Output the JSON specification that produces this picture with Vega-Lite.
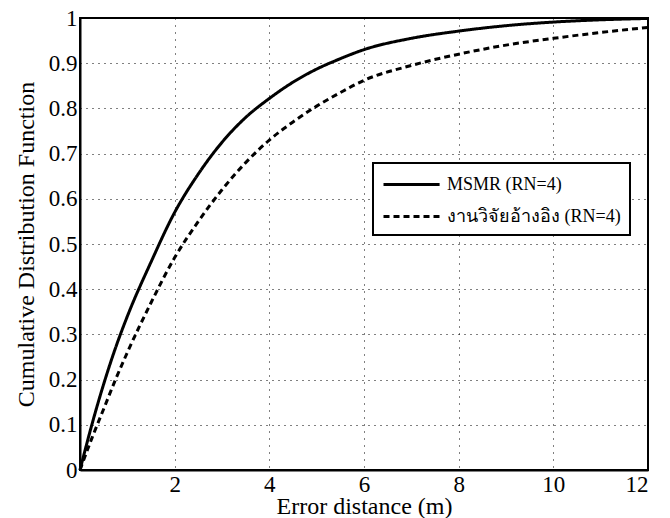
{
  "$schema": "https://vega.github.io/schema/vega-lite/v6.json",
  "width": 568,
  "height": 452,
  "autosize": {"type": "none"},
  "padding": {"left": 80, "top": 18, "right": 22, "bottom": 48},
  "background": "white",
  "config": {
    "font": "Liberation Serif",
    "view": {"stroke": "black", "strokeWidth": 2},
    "axis": {
      "labelFont": "Liberation Serif",
      "titleFont": "Liberation Serif",
      "labelFontSize": 23,
      "titleFontSize": 24,
      "titleFontWeight": "normal",
      "labelColor": "black",
      "titleColor": "black",
      "domainColor": "black",
      "domainWidth": 2,
      "gridColor": "black",
      "gridDash": [1, 5],
      "gridWidth": 1,
      "gridOpacity": 1,
      "ticks": false
    }
  },
  "data": {
    "values": [
      {"x": 0, "y": 0, "s": "MSMR (RN=4)"},
      {"x": 0.25, "y": 0.1, "s": "MSMR (RN=4)"},
      {"x": 0.5, "y": 0.19, "s": "MSMR (RN=4)"},
      {"x": 0.75, "y": 0.27, "s": "MSMR (RN=4)"},
      {"x": 1, "y": 0.34, "s": "MSMR (RN=4)"},
      {"x": 1.5, "y": 0.46, "s": "MSMR (RN=4)"},
      {"x": 2, "y": 0.57, "s": "MSMR (RN=4)"},
      {"x": 2.5, "y": 0.655, "s": "MSMR (RN=4)"},
      {"x": 3, "y": 0.725, "s": "MSMR (RN=4)"},
      {"x": 3.5, "y": 0.78, "s": "MSMR (RN=4)"},
      {"x": 4, "y": 0.822, "s": "MSMR (RN=4)"},
      {"x": 4.5, "y": 0.858, "s": "MSMR (RN=4)"},
      {"x": 5, "y": 0.887, "s": "MSMR (RN=4)"},
      {"x": 5.5, "y": 0.91, "s": "MSMR (RN=4)"},
      {"x": 6, "y": 0.93, "s": "MSMR (RN=4)"},
      {"x": 7, "y": 0.955, "s": "MSMR (RN=4)"},
      {"x": 8, "y": 0.971, "s": "MSMR (RN=4)"},
      {"x": 9, "y": 0.983, "s": "MSMR (RN=4)"},
      {"x": 10, "y": 0.991, "s": "MSMR (RN=4)"},
      {"x": 11, "y": 0.996, "s": "MSMR (RN=4)"},
      {"x": 12, "y": 0.999, "s": "MSMR (RN=4)"},
      {"x": 0, "y": 0, "s": "งานวิจัยอ้างอิง (RN=4)"},
      {"x": 0.25, "y": 0.07, "s": "งานวิจัยอ้างอิง (RN=4)"},
      {"x": 0.5, "y": 0.135, "s": "งานวิจัยอ้างอิง (RN=4)"},
      {"x": 0.75, "y": 0.2, "s": "งานวิจัยอ้างอิง (RN=4)"},
      {"x": 1, "y": 0.26, "s": "งานวิจัยอ้างอิง (RN=4)"},
      {"x": 1.5, "y": 0.37, "s": "งานวิจัยอ้างอิง (RN=4)"},
      {"x": 2, "y": 0.47, "s": "งานวิจัยอ้างอิง (RN=4)"},
      {"x": 2.5, "y": 0.55, "s": "งานวิจัยอ้างอิง (RN=4)"},
      {"x": 3, "y": 0.62, "s": "งานวิจัยอ้างอิง (RN=4)"},
      {"x": 3.5, "y": 0.68, "s": "งานวิจัยอ้างอิง (RN=4)"},
      {"x": 4, "y": 0.73, "s": "งานวิจัยอ้างอิง (RN=4)"},
      {"x": 4.5, "y": 0.77, "s": "งานวิจัยอ้างอิง (RN=4)"},
      {"x": 5, "y": 0.805, "s": "งานวิจัยอ้างอิง (RN=4)"},
      {"x": 5.5, "y": 0.835, "s": "งานวิจัยอ้างอิง (RN=4)"},
      {"x": 6, "y": 0.862, "s": "งานวิจัยอ้างอิง (RN=4)"},
      {"x": 7, "y": 0.895, "s": "งานวิจัยอ้างอิง (RN=4)"},
      {"x": 8, "y": 0.92, "s": "งานวิจัยอ้างอิง (RN=4)"},
      {"x": 9, "y": 0.94, "s": "งานวิจัยอ้างอิง (RN=4)"},
      {"x": 10, "y": 0.955, "s": "งานวิจัยอ้างอิง (RN=4)"},
      {"x": 11, "y": 0.968, "s": "งานวิจัยอ้างอิง (RN=4)"},
      {"x": 12, "y": 0.979, "s": "งานวิจัยอ้างอิง (RN=4)"}
    ]
  },
  "mark": {"type": "line", "strokeWidth": 3, "color": "black", "interpolate": "monotone"},
  "encoding": {
    "x": {
      "field": "x", "type": "quantitative",
      "scale": {"domain": [0, 12], "nice": false},
      "axis": {"title": "Error distance (m)", "values": [2, 4, 6, 8, 10, 12], "labelPadding": 3, "titlePadding": -2, "gridDash": [1, 6]}
    },
    "y": {
      "field": "y", "type": "quantitative",
      "scale": {"domain": [0, 1], "nice": false},
      "axis": {"title": "Cumulative Distribution Function", "values": [0, 0.1, 0.2, 0.3, 0.4, 0.5, 0.6, 0.7, 0.8, 0.9, 1], "labelPadding": 3, "titlePadding": 10, "format": "~g"}
    },
    "strokeDash": {
      "field": "s", "type": "nominal",
      "scale": {"domain": ["MSMR (RN=4)", "งานวิจัยอ้างอิง (RN=4)"], "range": [[1, 0], [6, 4]]},
      "legend": {
        "title": null,
        "orient": "none",
        "legendX": 293,
        "legendY": 145,
        "strokeColor": "black",
        "fillColor": "white",
        "padding": 9,
        "labelFont": "Liberation Serif",
        "labelFontSize": 18,
        "labelColor": "black",
        "labelLimit": 400,
        "symbolType": "M-1,0H4.1",
        "symbolStrokeWidth": 3,
        "symbolStrokeColor": "black",
        "symbolSize": 484,
        "rowPadding": 10,
        "labelOffset": 40,
        "encode": {"legend": {"update": {"strokeWidth": {"value": 2}}}}
      }
    }
  }
}
